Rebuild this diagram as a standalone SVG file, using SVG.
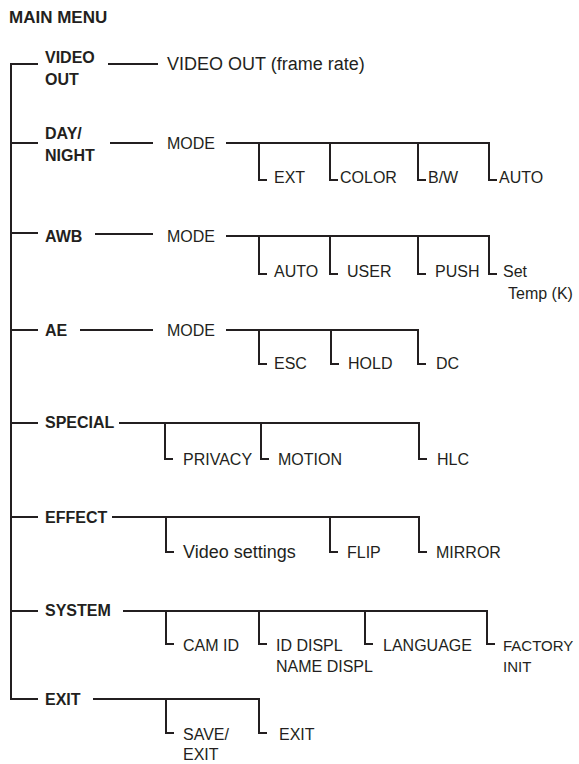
<svg xmlns="http://www.w3.org/2000/svg" width="579" height="764" viewBox="0 0 579 764">
<style>
text{font-family:"Liberation Sans",Arial,sans-serif;font-size:16px;fill:#231f20}
.b{font-weight:bold}
.t{font-size:17px}
.m{font-size:18px}
.f{font-size:15px}
#connectors path{fill:none;stroke:#231f20;stroke-width:2}
</style>
<rect width="579" height="764" fill="#fff"/>
<g id="connectors">
<path d="M38,64 H11 V699 H38"/>
<path d="M11,143 H38 M11,233 H38 M11,330 H38 M11,423 H38 M11,517 H38 M11,611 H38"/>
<path d="M108,64 H158"/>
<path d="M110,143 H153"/>
<path d="M226,143 H489 V180 H497 M259,143 V180 H267 M330,143 V180 H338 M418,143 V180 H426"/>
<path d="M95,234 H153"/>
<path d="M226,236 H489 V274 H497 M259,236 V274 H267 M330,236 V274 H338 M418,236 V274 H426"/>
<path d="M80,330 H153"/>
<path d="M226,330 H418 V364 H426 M259,330 V364 H267 M331,330 V364 H339"/>
<path d="M119,423 H419 V459 H427 M165,423 V459 H173 M261,423 V459 H269"/>
<path d="M112,517 H419 V552 H427 M166,517 V552 H174 M330,517 V552 H338"/>
<path d="M123,611 H487 V644 H495 M166,611 V644 H174 M259,611 V644 H267 M365,611 V644 H373"/>
<path d="M93,699 H259 V733 H267 M166,699 V733 H174"/>
</g>
<g id="title"><text class="b t" x="9" y="23">MAIN MENU</text></g>
<g id="video-out"><text class="b" x="45" y="63">VIDEO</text><text class="b" x="45" y="85">OUT</text></g>
<g id="video-out-frame"><text class="m" x="167" y="70">VIDEO OUT (frame rate)</text></g>
<g id="day-night"><text class="b" x="45" y="139">DAY/</text><text class="b" x="45" y="161">NIGHT</text></g>
<g id="dn-mode"><text x="167" y="149">MODE</text></g>
<g id="dn-ext"><text x="274" y="183">EXT</text></g>
<g id="dn-color"><text x="340" y="183">COLOR</text></g>
<g id="dn-bw"><text x="428" y="183">B/W</text></g>
<g id="dn-auto"><text x="499" y="183">AUTO</text></g>
<g id="awb"><text class="b" x="45" y="242">AWB</text></g>
<g id="awb-mode"><text x="167" y="242">MODE</text></g>
<g id="awb-auto"><text x="274" y="277">AUTO</text></g>
<g id="awb-user"><text x="347" y="277">USER</text></g>
<g id="awb-push"><text x="435" y="277">PUSH</text></g>
<g id="awb-set"><text x="503" y="277">Set</text><text x="508" y="299">Temp (K)</text></g>
<g id="ae"><text class="b" x="45" y="336">AE</text></g>
<g id="ae-mode"><text x="167" y="336">MODE</text></g>
<g id="ae-esc"><text x="274" y="369">ESC</text></g>
<g id="ae-hold"><text x="348" y="369">HOLD</text></g>
<g id="ae-dc"><text x="436" y="369">DC</text></g>
<g id="special"><text class="b" x="45" y="428">SPECIAL</text></g>
<g id="sp-privacy"><text x="183" y="465">PRIVACY</text></g>
<g id="sp-motion"><text x="278" y="465">MOTION</text></g>
<g id="sp-hlc"><text x="437" y="465">HLC</text></g>
<g id="effect"><text class="b" x="45" y="523">EFFECT</text></g>
<g id="ef-video"><text class="m" x="183" y="558">Video settings</text></g>
<g id="ef-flip"><text x="347" y="558">FLIP</text></g>
<g id="ef-mirror"><text x="436" y="558">MIRROR</text></g>
<g id="system"><text class="b" x="45" y="616">SYSTEM</text></g>
<g id="sy-camid"><text x="183" y="651">CAM ID</text></g>
<g id="sy-iddispl"><text x="276" y="651">ID DISPL</text><text x="276" y="672">NAME DISPL</text></g>
<g id="sy-language"><text x="383" y="651">LANGUAGE</text></g>
<g id="sy-factory"><text class="f" x="503" y="651">FACTORY</text><text class="f" x="503" y="672">INIT</text></g>
<g id="exit"><text class="b" x="45" y="705">EXIT</text></g>
<g id="ex-save"><text x="183" y="740">SAVE/</text><text x="183" y="760">EXIT</text></g>
<g id="ex-exit"><text x="279" y="740">EXIT</text></g>
</svg>
